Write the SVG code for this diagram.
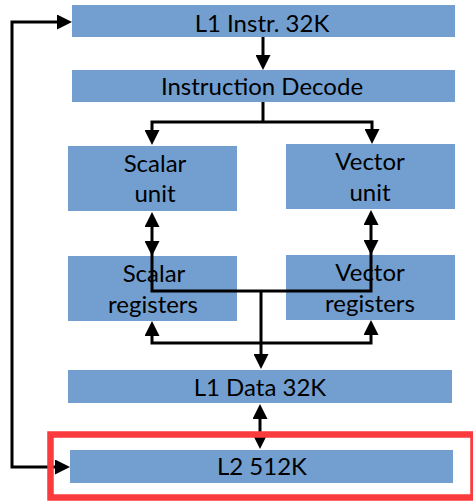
<svg xmlns="http://www.w3.org/2000/svg" width="473" height="501" viewBox="0 0 473 501">
  <style>
    .box { fill: #729fcf; }
    .lbl { font-family: Lato, "Open Sans", "Liberation Sans", sans-serif; font-size: 24px; fill: #000; text-anchor: middle; }
    .wire { fill: none; stroke: #000; stroke-width: 3; stroke-linejoin: miter; }
    .one { marker-end: url(#ah); }
    .two { marker-start: url(#ah); marker-end: url(#ah); }
    .hl { fill: none; stroke: #fb3a3d; stroke-width: 6.5; }
  </style>
  <defs>
    <marker id="ah" viewBox="0 0 15 15" refX="5" refY="7.5" markerWidth="15" markerHeight="15" markerUnits="userSpaceOnUse" orient="auto-start-reverse">
      <path d="M0,0 L15,7.5 L0,15 z" fill="#000"/>
    </marker>
  </defs>

  <g id="l1-instr">
    <rect class="box" x="72" y="5" width="383" height="32"/>
    <text class="lbl" x="262" y="31.5">L1 Instr. 32K</text>
  </g>
  <g id="decode">
    <rect class="box" x="72" y="70" width="383" height="32"/>
    <text class="lbl" x="262" y="95">Instruction Decode</text>
  </g>
  <g id="scalar-unit">
    <rect class="box" x="68" y="146" width="169" height="65"/>
    <text class="lbl" x="155" y="171.5">Scalar</text>
    <text class="lbl" x="155" y="202">unit</text>
  </g>
  <g id="vector-unit">
    <rect class="box" x="286" y="144" width="169" height="65"/>
    <text class="lbl" x="370" y="169.5">Vector</text>
    <text class="lbl" x="370" y="201">unit</text>
  </g>
  <g id="scalar-registers">
    <rect class="box" x="68" y="256" width="169" height="65"/>
    <text class="lbl" x="154" y="282">Scalar</text>
    <text class="lbl" x="153" y="312.5">registers</text>
  </g>
  <g id="vector-registers">
    <rect class="box" x="286" y="255" width="169" height="65"/>
    <text class="lbl" x="370" y="280.5">Vector</text>
    <text class="lbl" x="370" y="311.5">registers</text>
  </g>
  <g id="l1-data">
    <rect class="box" x="68" y="370" width="384" height="33"/>
    <text class="lbl" x="260" y="396">L1 Data 32K</text>
  </g>
  <g id="l2">
    <rect class="box" x="70" y="450" width="383" height="33"/>
    <text class="lbl" x="262" y="475">L2 512K</text>
  </g>

  <g id="connectors">
    <!-- fetch into decode -->
    <path class="wire one" d="M263,37 V60"/>
    <!-- decode fans out to both units -->
    <path class="wire" d="M263,102 V122"/>
    <path class="wire two" d="M152,135 V122 H372 V134"/>
    <!-- unit to register file links -->
    <path class="wire two" d="M152,222 V246"/>
    <path class="wire two" d="M371,220 V245"/>
    <path class="wire" d="M152,246 V291 H371 V245"/>
    <!-- register files load/store -->
    <path class="wire two" d="M152,331 V343 H371 V330"/>
    <path class="wire one" d="M261,291 V359"/>
    <!-- L1 data to L2 -->
    <path class="wire two" d="M260,414 V439"/>
    <!-- L2 refills the instruction cache -->
    <path class="wire two" d="M60,467 H12 V22 H62"/>
  </g>

  <rect id="l2-highlight" class="hl" x="50.5" y="434.5" width="423" height="63"/>
</svg>
